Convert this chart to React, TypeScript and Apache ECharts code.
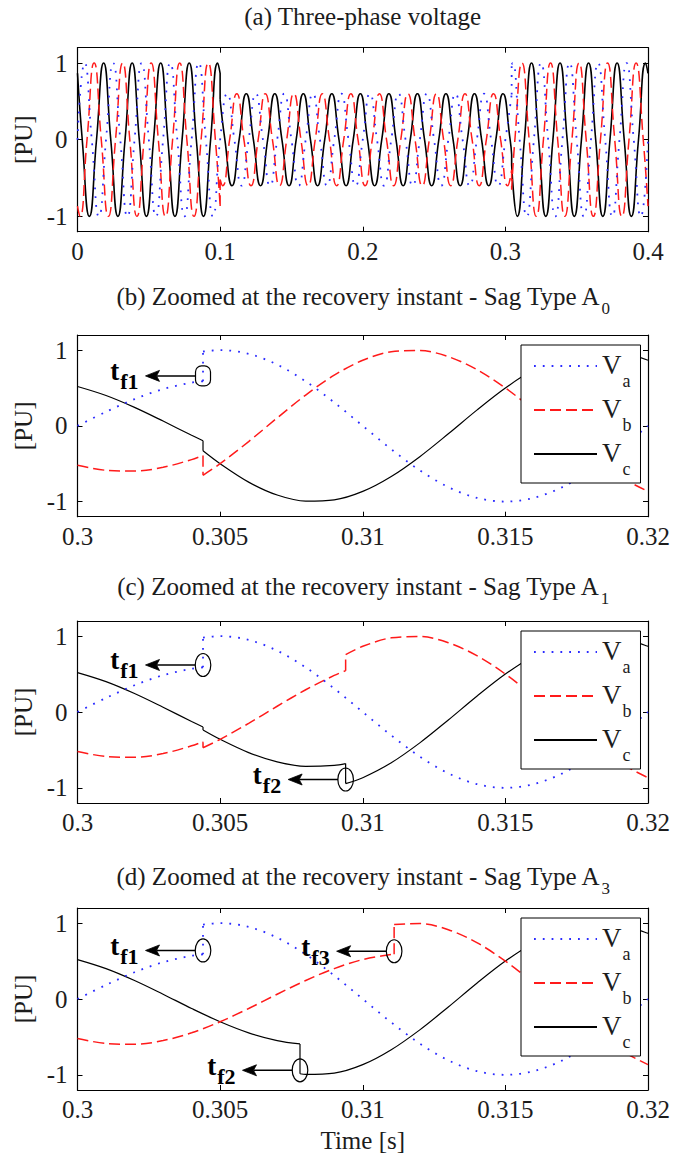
import React, { useEffect, useRef } from 'react';
import * as echarts from 'echarts';

type Pt = [number, number];

// ---------- data ----------
const PHASES = ['Va', 'Vb', 'Vc'];
const PHASE_SUB: Record<string, string> = { Va: 'a', Vb: 'b', Vc: 'c' };

const TITLE_MAIN = [
  '(a) Three-phase voltage',
  '(b) Zoomed at the recovery instant - Sag Type A',
  '(c) Zoomed at the recovery instant - Sag Type A',
  '(d) Zoomed at the recovery instant - Sag Type A',
];
const TITLE_SUB = ['', '0', '1', '3'];

const X_TICKS_FULL = [0, 0.1, 0.2, 0.3, 0.4];
const X_TICKS_ZOOM = [0.3, 0.305, 0.31, 0.315, 0.32];
const Y_TICKS = [-1, 0, 1];

// (a) whole record: peaks and zero crossings of every phase, sag 0.1 s .. 0.3044 s
const A_VA: Pt[] = [
  [0, 0], [.005, 1], [.01, 0], [.015, -1], [.02, 0], [.025, 1], [.03, 0], [.035, -1], [.04, 0], [.045, 1],
  [.05, 0], [.055, -1], [.06, 0], [.065, 1], [.07, 0], [.075, -1], [.08, 0], [.085, 1], [.09, 0], [.095, -1], [.1, 0],
  [.105, .6], [.11, 0], [.115, -.6], [.12, 0], [.125, .6], [.13, 0], [.135, -.6], [.14, 0], [.145, .6], [.15, 0],
  [.155, -.6], [.16, 0], [.165, .6], [.17, 0], [.175, -.6], [.18, 0], [.185, .6], [.19, 0], [.195, -.6], [.2, 0],
  [.205, .6], [.21, 0], [.215, -.6], [.22, 0], [.225, .6], [.23, 0], [.235, -.6], [.24, 0], [.245, .6], [.25, 0],
  [.255, -.6], [.26, 0], [.265, .6], [.27, 0], [.275, -.6], [.28, 0], [.285, .6], [.29, 0], [.295, -.6], [.3, 0],
  [.3044, .589], [.3044, .982],
  [.305, 1], [.31, 0], [.315, -1], [.32, 0], [.325, 1], [.33, 0], [.335, -1], [.34, 0], [.345, 1], [.35, 0],
  [.355, -1], [.36, 0], [.365, 1], [.37, 0], [.375, -1], [.38, 0], [.385, 1], [.39, 0], [.395, -1], [.4, 0],
];
const A_VB: Pt[] = [
  [0, -.866], [.00167, -1], [.00667, 0], [.01167, 1], [.01667, 0], [.02167, -1], [.02667, 0], [.03167, 1], [.03667, 0],
  [.04167, -1], [.04667, 0], [.05167, 1], [.05667, 0], [.06167, -1], [.06667, 0], [.07167, 1], [.07667, 0], [.08167, -1],
  [.08667, 0], [.09167, 1], [.09667, 0], [.1, -.866],
  [.1, -.52], [.10167, -.6], [.10667, 0], [.11167, .6], [.11667, 0], [.12167, -.6], [.12667, 0], [.13167, .6], [.13667, 0],
  [.14167, -.6], [.14667, 0], [.15167, .6], [.15667, 0], [.16167, -.6], [.16667, 0], [.17167, .6], [.17667, 0], [.18167, -.6],
  [.18667, 0], [.19167, .6], [.19667, 0], [.20167, -.6], [.20667, 0], [.21167, .6], [.21667, 0], [.22167, -.6], [.22667, 0],
  [.23167, .6], [.23667, 0], [.24167, -.6], [.24667, 0], [.25167, .6], [.25667, 0], [.26167, -.6], [.26667, 0], [.27167, .6],
  [.27667, 0], [.28167, -.6], [.28667, 0], [.29167, .6], [.29667, 0], [.30167, -.6], [.3044, -.392],
  [.3044, -.653], [.30667, 0], [.31167, 1], [.31667, 0], [.32167, -1], [.32667, 0], [.33167, 1], [.33667, 0], [.34167, -1],
  [.34667, 0], [.35167, 1], [.35667, 0], [.36167, -1], [.36667, 0], [.37167, 1], [.37667, 0], [.38167, -1], [.38667, 0],
  [.39167, 1], [.39667, 0], [.4, -.866],
];
const A_VC: Pt[] = [
  [0, .866], [.00333, 0], [.00833, -1], [.01333, 0], [.01833, 1], [.02333, 0], [.02833, -1], [.03333, 0], [.03833, 1],
  [.04333, 0], [.04833, -1], [.05333, 0], [.05833, 1], [.06333, 0], [.06833, -1], [.07333, 0], [.07833, 1], [.08333, 0],
  [.08833, -1], [.09333, 0], [.09833, 1], [.1, .866],
  [.1, .52], [.10333, 0], [.10833, -.6], [.11333, 0], [.11833, .6], [.12333, 0], [.12833, -.6], [.13333, 0], [.13833, .6],
  [.14333, 0], [.14833, -.6], [.15333, 0], [.15833, .6], [.16333, 0], [.16833, -.6], [.17333, 0], [.17833, .6], [.18333, 0],
  [.18833, -.6], [.19333, 0], [.19833, .6], [.20333, 0], [.20833, -.6], [.21333, 0], [.21833, .6], [.22333, 0], [.22833, -.6],
  [.23333, 0], [.23833, .6], [.24333, 0], [.24833, -.6], [.25333, 0], [.25833, .6], [.26333, 0], [.26833, -.6], [.27333, 0],
  [.27833, .6], [.28333, 0], [.28833, -.6], [.29333, 0], [.29833, .6], [.30333, 0], [.3044, -.197],
  [.3044, -.329], [.30833, -1], [.31333, 0], [.31833, 1], [.32333, 0], [.32833, -1], [.33333, 0], [.33833, 1], [.34333, 0],
  [.34833, -1], [.35333, 0], [.35833, 1], [.36333, 0], [.36833, -1], [.37333, 0], [.37833, 1], [.38333, 0], [.38833, -1],
  [.39333, 0], [.39833, 1], [.4, .866],
];

// zoomed windows, 1 ms samples plus the values on both sides of every step
const Z_VA: Pt[] = [
  [.3, 0], [.301, .185], [.302, .353], [.303, .485], [.304, .571], [.3044, .589], [.3044, .982], [.305, 1], [.306, .951],
  [.307, .809], [.308, .588], [.309, .309], [.31, 0], [.311, -.309], [.312, -.588], [.313, -.809], [.314, -.951], [.315, -1],
  [.316, -.951], [.317, -.809], [.318, -.588], [.319, -.309], [.32, 0],
];
const B_VB: Pt[] = [
  [.3, -.52], [.301, -.587], [.302, -.597], [.303, -.548], [.304, -.446], [.3044, -.392], [.3044, -.653], [.305, -.5],
  [.306, -.208], [.307, .105], [.308, .407], [.309, .669], [.31, .866], [.311, .978], [.312, .995], [.313, .914], [.314, .743],
  [.315, .5], [.316, .208], [.317, -.105], [.318, -.407], [.319, -.669], [.32, -.866],
];
const B_VC: Pt[] = [
  [.3, .52], [.301, .401], [.302, .244], [.303, .063], [.304, -.125], [.3044, -.197], [.3044, -.329], [.305, -.5],
  [.306, -.743], [.307, -.914], [.308, -.995], [.309, -.978], [.31, -.866], [.311, -.669], [.312, -.407], [.313, -.105],
  [.314, .208], [.315, .5], [.316, .743], [.317, .914], [.318, .995], [.319, .978], [.32, .866],
];
const C_VB: Pt[] = [
  [.3, -.52], [.301, -.587], [.302, -.597], [.303, -.548], [.304, -.446], [.3044, -.392], [.3044, -.471], [.305, -.36],
  [.306, -.15], [.307, .076], [.308, .293], [.309, .482], [.3094, .545], [.3094, .757], [.31, .866], [.311, .978], [.312, .995],
  [.313, .914], [.314, .743], [.315, .5], [.316, .208], [.317, -.105], [.318, -.407], [.319, -.669], [.32, -.866],
];
const C_VC: Pt[] = [
  [.3, .52], [.301, .401], [.302, .244], [.303, .063], [.304, -.125], [.3044, -.197], [.3044, -.237], [.305, -.36],
  [.306, -.535], [.307, -.658], [.308, -.716], [.309, -.704], [.3094, -.68], [.3094, -.944], [.31, -.866], [.311, -.669],
  [.312, -.407], [.313, -.105], [.314, .208], [.315, .5], [.316, .743], [.317, .914], [.318, .995], [.319, .978], [.32, .866],
];
const D_VB: Pt[] = [
  [.3, -.52], [.301, -.587], [.302, -.597], [.303, -.548], [.304, -.446], [.305, -.3], [.306, -.125], [.307, .063],
  [.308, .244], [.309, .401], [.31, .52], [.311, .587], [.3111, .591], [.3111, .984], [.312, .995], [.313, .914], [.314, .743],
  [.315, .5], [.316, .208], [.317, -.105], [.318, -.407], [.319, -.669], [.32, -.866],
];
const D_VC: Pt[] = [
  [.3, .52], [.301, .401], [.302, .244], [.303, .063], [.304, -.125], [.305, -.3], [.306, -.446], [.307, -.548],
  [.3078, -.592], [.3078, -.986], [.308, -.995], [.309, -.978], [.31, -.866], [.311, -.669], [.312, -.407], [.313, -.105],
  [.314, .208], [.315, .5], [.316, .743], [.317, .914], [.318, .995], [.319, .978], [.32, .866],
];

const PANEL_DATA: Pt[][][] = [
  [A_VA, A_VB, A_VC],
  [Z_VA, B_VB, B_VC],
  [Z_VA, C_VB, C_VC],
  [Z_VA, D_VB, D_VC],
];

// fault-clearing instants marked in the zoomed panels: [panel, label, t, v]
const MARKS: [number, string, number, number][] = [
  [1, 'f1', 0.3044, 0.66],
  [2, 'f1', 0.3044, 0.62],
  [2, 'f2', 0.3094, -0.89],
  [3, 'f1', 0.3044, 0.64],
  [3, 'f2', 0.3078, -0.94],
  [3, 'f3', 0.3111, 0.63],
];

// ---------- layout / style ----------
const W = 673;
const H = 1153;
const SERIF = '"Liberation Serif", "Times New Roman", "DejaVu Serif", serif';
const INK = '#1c1c1c';
const PLOT_LEFT = 77.5;
const PLOT_RIGHT = 648;
const PANEL_TOP = [47.7, 335, 621, 908];
const PANEL_H = [184, 181.7, 182, 182];
const TITLE_TOP = [4, 284, 574, 864];

const LINE_STYLE: Record<string, any> = {
  Va: { color: '#2b2bff', width: 1.8, type: [1.8, 7], cap: 'butt' },
  Vb: { color: '#ff1a1a', width: 1.5, type: [11, 5], cap: 'butt' },
  Vc: { color: '#000000', width: 1.2, type: 'solid', cap: 'butt' },
};

// split a trace at its steps: a gap, a vertical connector, a gap
function withSteps(pts: Pt[]): (number | null)[][] {
  const out: (number | null)[][] = [];
  for (let i = 0; i < pts.length; i++) {
    const [t, v] = pts[i];
    if (i > 0 && pts[i - 1][0] === t) {
      const before = pts[i - 1][1];
      out.push([t, null], [t, before], [t, v], [t, null]);
    }
    out.push([t, v]);
  }
  return out;
}

const fmtTick = (v: number) => String(Number(v.toFixed(4)));

function buildOption() {
  const grid: any[] = [];
  const xAxis: any[] = [];
  const yAxis: any[] = [];
  const series: any[] = [];
  const legend: any[] = [];

  for (let p = 0; p < 4; p++) {
    grid.push({
      left: PLOT_LEFT,
      top: PANEL_TOP[p],
      width: PLOT_RIGHT - PLOT_LEFT,
      height: PANEL_H[p],
      outerBoundsMode: 'none',
      containLabel: false,
    });
    const ticks = p === 0 ? X_TICKS_FULL : X_TICKS_ZOOM;
    const range = p === 0 ? [0, 0.4] : [0.3, 0.32];
    const axisLine = { show: true, onZero: false, lineStyle: { color: '#000', width: 1.2 } };
    const xCommon = {
      type: 'value', gridIndex: p, min: range[0], max: range[1],
      axisLine,
      axisTick: { show: true, inside: true, length: 5, customValues: ticks, lineStyle: { color: '#000', width: 1 } },
      splitLine: { show: false },
    };
    xAxis.push({
      ...xCommon,
      position: 'bottom',
      axisLabel: {
        show: true, customValues: ticks, formatter: fmtTick, margin: 7,
        fontSize: 25, fontFamily: SERIF, color: INK,
      },
      name: p === 3 ? 'Time [s]' : '',
      nameLocation: 'middle',
      nameGap: 38,
      nameTextStyle: { fontSize: 25, fontFamily: SERIF, color: INK },
    });
    xAxis.push({ ...xCommon, position: 'top', axisLabel: { show: false } });

    const yCommon = {
      type: 'value', gridIndex: p, min: -1.2, max: 1.2,
      axisLine,
      axisTick: { show: true, inside: true, length: 5, customValues: Y_TICKS, lineStyle: { color: '#000', width: 1 } },
      splitLine: { show: false },
    };
    yAxis.push({
      ...yCommon,
      position: 'left',
      axisLabel: {
        show: true, customValues: Y_TICKS, formatter: fmtTick, margin: 10,
        fontSize: 25, fontFamily: SERIF, color: INK,
      },
      name: '[PU]',
      nameLocation: 'middle',
      nameGap: 38,
      nameTextStyle: { fontSize: 25, fontFamily: SERIF, color: INK },
    });
    yAxis.push({ ...yCommon, position: 'right', axisLabel: { show: false } });

    PHASES.forEach((name, k) => {
      const ls = LINE_STYLE[name];
      series.push({
        type: 'line',
        name,
        xAxisIndex: 2 * p,
        yAxisIndex: 2 * p,
        data: withSteps(PANEL_DATA[p][k]),
        symbol: 'none',
        showSymbol: false,
        smooth: p === 0 ? 0.55 : 0.33,
        connectNulls: false,
        silent: true,
        lineStyle: {
          color: ls.color,
          width: p === 0 && name === 'Vc' ? 1.6 : ls.width,
          type: ls.type,
          cap: ls.cap,
        },
        itemStyle: { color: ls.color },
        z: 3 - k,
      });
    });

    if (p > 0) {
      legend.push({
        data: PHASES,
        orient: 'vertical',
        left: 521,
        top: PANEL_TOP[p] + 10,
        itemWidth: 63,
        itemHeight: 14,
        itemGap: 5,
        padding: [6, 9, 5, 12],
        borderColor: '#000',
        borderWidth: 1,
        backgroundColor: '#fff',
        selectedMode: false,
        itemStyle: { opacity: 0, borderWidth: 0 },
        formatter: (n: string) => `{v|V}{s|${PHASE_SUB[n]}}`,
        textStyle: {
          fontFamily: SERIF,
          color: INK,
          rich: {
            v: { fontSize: 27, lineHeight: 30, verticalAlign: 'top', fontFamily: SERIF, color: INK },
            s: { fontSize: 18, lineHeight: 18, verticalAlign: 'top', padding: [21, 0, 0, 1], fontFamily: SERIF, color: INK },
          },
        },
        z: 10,
      });
    }
  }

  return {
    animation: false,
    backgroundColor: '#ffffff',
    textStyle: { fontFamily: SERIF },
    grid,
    xAxis,
    yAxis,
    legend,
    series,
  };
}

function buildGraphics(chart: any) {
  const els: any[] = [];

  TITLE_MAIN.forEach((main, p) => {
    const sub = TITLE_SUB[p];
    els.push({
      type: 'text',
      x: (PLOT_LEFT + PLOT_RIGHT) / 2,
      y: TITLE_TOP[p],
      silent: true,
      style: {
        text: sub ? `{m|${main}}{s|${sub}}` : `{m|${main}}`,
        align: 'center',
        verticalAlign: 'top',
        rich: {
          m: { fontSize: 25, lineHeight: 28, verticalAlign: 'top', fontFamily: SERIF, fill: INK, color: INK },
          s: { fontSize: 17, lineHeight: 17, verticalAlign: 'top', padding: [16, 0, 0, 1], fontFamily: SERIF, fill: INK, color: INK },
        },
      },
    });
  });

  MARKS.forEach(([p, label, t, v]) => {
    const [cx, cy] = chart.convertToPixel({ xAxisIndex: 2 * p, yAxisIndex: 2 * p }, [t, v]);
    if (p === 1) {
      els.push({
        type: 'rect', silent: true, z: 20,
        shape: { x: cx - 7.5, y: cy - 10, width: 15, height: 20, r: 6 },
        style: { fill: 'none', stroke: '#000', lineWidth: 1.2 },
      });
    } else {
      els.push({
        type: 'ellipse', silent: true, z: 20,
        shape: { cx, cy, rx: 7.8, ry: 11.5 },
        style: { fill: 'none', stroke: '#000', lineWidth: 1.2 },
      });
    }
    const tipX = cx - 57.5;
    els.push({
      type: 'line', silent: true, z: 20,
      shape: { x1: cx - 7.5, y1: cy, x2: tipX + 11, y2: cy },
      style: { stroke: '#000', lineWidth: 1.5 },
    });
    els.push({
      type: 'polygon', silent: true, z: 20,
      shape: { points: [[tipX, cy], [tipX + 14, cy - 5.5], [tipX + 11, cy], [tipX + 14, cy + 5.5]] },
      style: { fill: '#000', stroke: '#000', lineWidth: 0.8 },
    });
    els.push({
      type: 'text', silent: true, z: 20,
      x: tipX - 7,
      y: cy - 4,
      style: {
        text: `{t|t}{s|${label}}`,
        align: 'right',
        verticalAlign: 'middle',
        rich: {
          t: { fontSize: 27, fontWeight: 'bold', lineHeight: 28, verticalAlign: 'top', fontFamily: SERIF, fill: '#000', color: '#000' },
          s: { fontSize: 22, fontWeight: 'bold', lineHeight: 22, verticalAlign: 'top', padding: [13, 0, 0, 1], fontFamily: SERIF, fill: '#000', color: '#000' },
        },
      },
    });
  });

  return els;
}

export default function App() {
  const ref = useRef<HTMLDivElement>(null);

  useEffect(() => {
    if (!ref.current) return;
    const chart = echarts.init(ref.current, null, { renderer: 'svg', width: W, height: H });
    chart.setOption(buildOption() as any);
    chart.setOption({ graphic: buildGraphics(chart) } as any);
    return () => chart.dispose();
  }, []);

  return (
    <div
      ref={ref}
      style={{ position: 'fixed', left: 0, top: 0, width: W, height: H, background: '#fff' }}
    />
  );
}
